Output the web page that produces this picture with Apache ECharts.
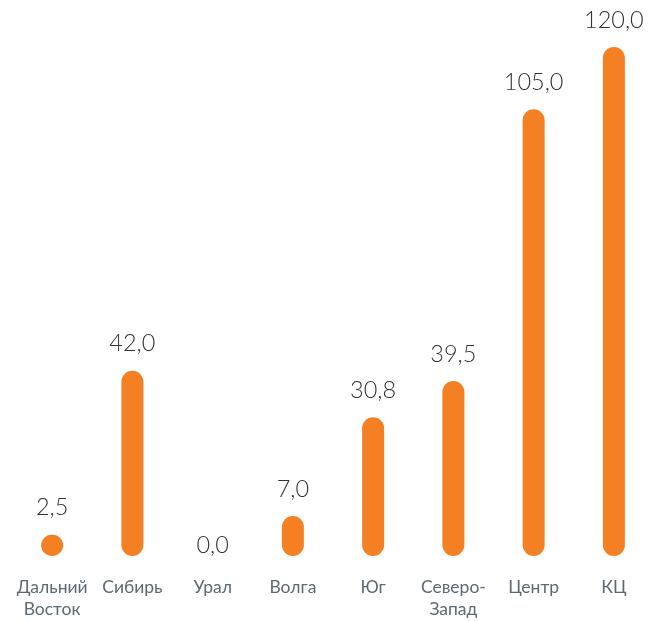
<!DOCTYPE html>
<html>
<head>
<meta charset="utf-8">
<script src="https://cdn.jsdelivr.net/npm/echarts@6/dist/echarts.min.js"></script>
<style>
html,body{margin:0;padding:0;background:#fff;}
#c{width:657px;height:621px;}
</style>
</head>
<body>
<div id="c"></div>
<script>
var categories = ['Дальний\nВосток', 'Сибирь', 'Урал', 'Волга', 'Юг', 'Северо-\nЗапад', 'Центр', 'КЦ'];
var values = [2.5, 42.0, 0.0, 7.0, 30.8, 39.5, 105.0, 120.0];

var BAR_COLOR = '#F58024';
var BAR_W = 22;
var CAP = 5.5;

var chart = echarts.init(document.getElementById('c'), null, {renderer: 'canvas'});

var labelData = values.map(function (v) {
  var item = {value: v};
  if (v === 0) {
    item.label = {distance: -8};
  }
  return item;
});

chart.setOption({
  animation: false,
  grid: {left: 12, right: 3, top: 52.5, bottom: 70.5, containLabel: false},
  xAxis: {
    type: 'category',
    data: categories,
    axisLine: {show: false},
    axisTick: {show: false},
    axisLabel: {
      interval: 0,
      margin: 26,
      fontFamily: 'Lato',
      fontSize: 17.5,
      lineHeight: 22,
      color: '#5E6970'
    }
  },
  yAxis: {
    type: 'value',
    min: 0,
    max: 120,
    show: false,
    splitLine: {show: false}
  },
  series: [
    {
      type: 'custom',
      silent: true,
      data: values.map(function (v, i) { return [i, v]; }),
      renderItem: function (params, api) {
        var v = api.value(1);
        if (!v) return null;
        var p0 = api.coord([api.value(0), 0]);
        var p1 = api.coord([api.value(0), v]);
        var top = p1[1] - CAP;
        var bottom = p0[1] + CAP;
        return {
          type: 'rect',
          shape: {x: p0[0] - BAR_W / 2, y: top, width: BAR_W, height: bottom - top, r: BAR_W / 2},
          style: {fill: BAR_COLOR}
        };
      },
      z: 2
    },
    {
      type: 'bar',
      silent: true,
      barWidth: BAR_W,
      itemStyle: {color: 'rgba(0,0,0,0)'},
      data: labelData,
      label: {
        show: true,
        position: 'top',
        distance: 19.5,
        fontFamily: 'Lato',
        fontWeight: 300,
        fontSize: 23.5,
        lineHeight: 26,
        color: '#333333',
        formatter: function (p) { return p.value.toFixed(1).replace('.', ','); }
      },
      z: 3
    }
  ]
});
</script>
</body>
</html>
